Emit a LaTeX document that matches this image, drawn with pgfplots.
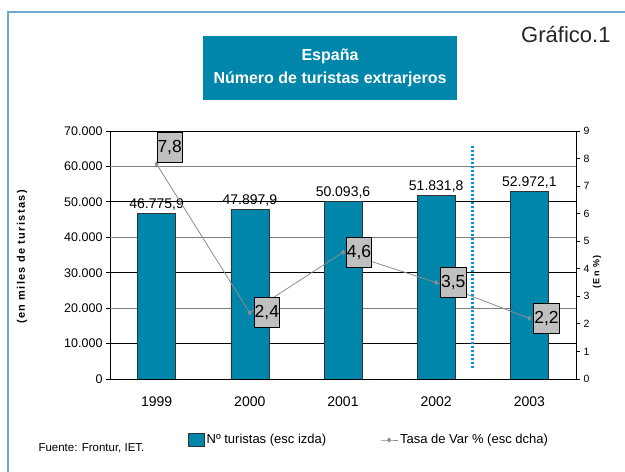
\documentclass[border=0pt]{standalone}
\usepackage{fontspec}
\setmainfont{Liberation Sans}
\newfontfamily\spaced[LetterSpace=12]{Liberation Sans}
\usepackage{pgfplots}
\usepackage{pgfplotstable}
\pgfplotsset{compat=1.18}

\definecolor{barblue}{RGB}{0,134,171}
\definecolor{dotblue}{RGB}{0,150,210}
\definecolor{framebl}{RGB}{110,170,205}
\definecolor{boxgray}{RGB}{192,192,192}
\definecolor{linegray}{RGB}{140,140,140}

\newcommand{\fs}[1]{\fontsize{#1bp}{#1bp}\selectfont}

% turistas (miles), escala izquierda
\pgfplotstableread{
x y lab
0 46775.9 46.775,9
1 47897.9 47.897,9
2 50093.6 50.093,6
3 51831.8 51.831,8
4 52972.1 52.972,1
}\turistas

% tasa de variacion (%), escala derecha
\pgfplotstableread{
x y lab dx dy
0 7.8 7,8 0 17
1 2.4 2,4 4 0
2 4.6 4,6 3 0
3 3.5 3,5 4 0
4 2.2 2,2 4 0
}\tasa

\begin{document}
\begin{tikzpicture}
\useasboundingbox (0,0) rectangle (625bp,472bp);

% marco
\draw[framebl, line width=2bp] (8bp,0) -- (8bp,460bp) -- (625bp,460bp);

% titulo
\fill[barblue] (203bp,372bp) rectangle (457bp,436bp);
\node[anchor=base, text=white, font=\bfseries\fs{16}] at (330bp,411bp) {España};
\node[anchor=base, text=white, font=\bfseries\fs{16}] at (330bp,388bp) {Número de turistas extrarjeros};
\node[anchor=base east, text=black!85, font=\fs{22}] at (614bp,429bp) {Gráfico.1};

\begin{axis}[
    at={(110bp,93bp)}, anchor=south west,
    scale only axis, width=466bp, height=248bp,
    xmin=-0.5, xmax=4.5, ymin=0, ymax=70000,
    axis line style={black, line width=0.8bp},
    tick align=outside, xtick pos=lower, ytick pos=left,
    major tick length=4bp, minor tick length=4bp,
    tick style={black, line width=0.8bp},
    xtick={0,1,2,3,4},
    xticklabels={1999,2000,2001,2002,2003},
    x tick style={draw=none},
    minor xtick={-0.5,0.5,1.5,2.5,3.5,4.5},
    xticklabel style={font=\fs{14}, yshift=-10bp},
    ytick={0,10000,30000,50000,70000},
    extra y ticks={20000,40000,60000},
    extra y tick style={grid style={draw=gray, line width=0.9bp}},
    ymajorgrids,
    grid style={black, line width=0.8bp},
    yticklabel style={font=\fs{12.5}},
    scaled y ticks=false,
    /pgf/number format/1000 sep={.},
    /pgf/number format/assume math mode=true,
    legend columns=2,
    legend style={at={(axis description cs:0.167,-0.246)}, anchor=west,
        draw=none, fill=none, inner sep=0pt, font=\fs{13},
        /tikz/every even column/.append style={column sep=52bp}},
]
\addplot[ybar, bar width=38bp, fill=barblue, draw=black!80, line width=0.6bp,
    nodes near coords, point meta=explicit symbolic,
    nodes near coords style={font=\fs{14}, text=black, inner sep=1bp, anchor=south, yshift=2bp},
    legend image code/.code={\draw[fill=barblue, draw=black!80, line width=0.6bp] (0bp,-6.5bp) rectangle (16bp,6.5bp);}]
    table[x=x, y=y, meta=lab] {\turistas};
\addlegendentry{Nº turistas (esc izda)}
\addlegendimage{linegray, line width=0.8bp, mark=diamond*, mark size=2bp, mark options={fill=linegray}}
\addlegendentry{Tasa de Var \% (esc dcha)}
\addplot[forget plot, dotblue, line width=3bp, dash pattern=on 2.5bp off 1.5bp]
    coordinates {(3.39,3100) (3.39,66000)};
\end{axis}

\begin{axis}[
    at={(110bp,93bp)}, anchor=south west,
    scale only axis, width=466bp, height=248bp,
    xmin=-0.5, xmax=4.5, ymin=0, ymax=9,
    axis x line=none, axis y line*=right,
    axis line style={black, line width=0.8bp},
    tick align=outside, major tick length=4bp,
    tick style={black, line width=0.8bp},
    ytick={0,1,...,9},
    yticklabel style={font=\fs{10.5}},
    /pgf/number format/assume math mode=true,
    clip=false,
]
\addplot[linegray, line width=0.8bp, mark=diamond*, mark size=2bp,
    mark options={fill=linegray, draw=linegray},
    visualization depends on={\thisrow{dx} \as \dx},
    visualization depends on={\thisrow{dy} \as \dy},
    nodes near coords, point meta=explicit symbolic,
    nodes near coords style={draw=black, fill=boxgray, text=black, font=\fs{17.5},
        line width=0.8bp, inner sep=0.5bp, minimum height=30bp, minimum width=25bp,
        anchor=west, xshift=\dx bp, yshift=\dy bp}]
    table[x=x, y=y, meta=lab] {\tasa};
\end{axis}

% rotulos de ejes y fuente
\node[rotate=90, font=\spaced\bfseries\fs{11}] at (22bp,215bp) {(en miles de turistas)};
\node[rotate=90, font=\spaced\bfseries\fs{9}] at (597bp,200bp) {(En \%)};
\node[anchor=base west, font=\fs{11.5}] at (35bp,21bp) {Fuente: Frontur, IET.};
\end{tikzpicture}
\end{document}
